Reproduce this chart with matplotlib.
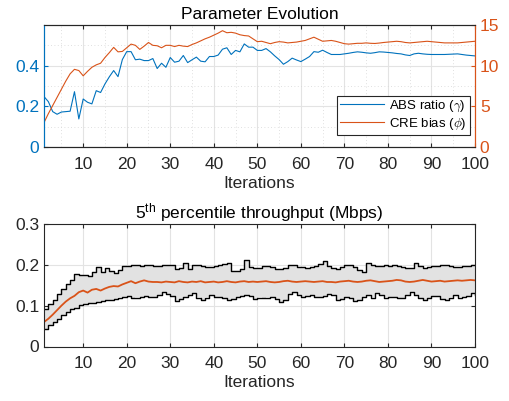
import numpy as np
import matplotlib
matplotlib.use("Agg")
import matplotlib.pyplot as plt
from matplotlib.ticker import MultipleLocator

plt.rcParams['font.family'] = ['Liberation Sans', 'DejaVu Sans']
plt.rcParams['mathtext.fontset'] = 'custom'
plt.rcParams['mathtext.rm'] = 'Liberation Sans'
plt.rcParams['mathtext.it'] = 'Liberation Sans:italic'

iterations = list(range(1, 101))

abs_ratio = [0.248, 0.223, 0.174, 0.161, 0.172, 0.174, 0.176, 0.272, 0.138, 0.236,
             0.22, 0.212, 0.277, 0.268, 0.31, 0.345, 0.376, 0.346, 0.43, 0.469,
             0.469, 0.429, 0.432, 0.425, 0.425, 0.435, 0.386, 0.412, 0.392, 0.44,
             0.417, 0.422, 0.45, 0.415, 0.429, 0.442, 0.422, 0.419, 0.445, 0.445,
             0.452, 0.481, 0.488, 0.455, 0.475, 0.468, 0.507, 0.491, 0.491, 0.475,
             0.475, 0.484, 0.468, 0.448, 0.43, 0.407, 0.42, 0.437, 0.428, 0.42,
             0.432, 0.445, 0.469, 0.466, 0.476, 0.465, 0.455, 0.455, 0.455, 0.458,
             0.461, 0.465, 0.468, 0.466, 0.463, 0.461, 0.464, 0.468, 0.467, 0.465,
             0.463, 0.46, 0.458, 0.453, 0.45, 0.458, 0.461, 0.458, 0.456, 0.455,
             0.455, 0.455, 0.455, 0.456, 0.457, 0.458, 0.455, 0.452, 0.45, 0.448]

cre_bias = [3.0, 4.1, 5.1, 6.1, 7.1, 8.1, 9.0, 9.55, 9.4, 8.75,
            9.3, 9.8, 10.1, 10.3, 11.0, 11.6, 12.25, 11.7, 11.75, 12.2,
            12.65, 12.5, 12.0, 12.4, 12.85, 12.5, 12.45, 12.2, 12.5, 12.5,
            12.35, 12.5, 12.4, 12.35, 12.6, 12.8, 13.05, 13.3, 13.5, 13.75,
            14.0, 14.3, 14.05, 14.1, 14.0, 13.8, 13.7, 13.65, 13.3, 12.95,
            13.0, 12.85, 12.7, 12.85, 12.95, 12.9, 12.8, 12.85, 12.9, 13.0,
            13.1, 13.3, 13.5, 13.25, 13.0, 13.05, 13.1, 13.0, 12.85, 12.7,
            12.65, 12.7, 12.75, 12.75, 12.8, 12.75, 12.73, 12.78, 12.85, 12.9,
            12.95, 13.0, 12.95, 12.85, 12.8, 12.85, 12.9, 12.95, 13.0, 12.95,
            12.9, 12.85, 12.8, 12.8, 12.8, 12.8, 12.85, 12.9, 12.95, 13.0]

tp_upper = [0.093, 0.105, 0.113, 0.128, 0.142, 0.152, 0.163, 0.178, 0.176, 0.175,
            0.173, 0.182, 0.194, 0.183, 0.193, 0.186, 0.181, 0.187, 0.196, 0.197,
            0.199, 0.2, 0.198, 0.199, 0.2, 0.196, 0.198, 0.2, 0.199, 0.2,
            0.19, 0.192, 0.204, 0.19, 0.2, 0.199, 0.198, 0.195, 0.194, 0.198,
            0.2, 0.201, 0.205, 0.186, 0.185, 0.19, 0.212, 0.195, 0.193, 0.192,
            0.197, 0.196, 0.194, 0.191, 0.189, 0.193, 0.2, 0.199, 0.195, 0.194,
            0.193, 0.195, 0.198, 0.203, 0.209, 0.196, 0.193, 0.19, 0.195, 0.2,
            0.199, 0.194, 0.188, 0.182, 0.205, 0.2, 0.196, 0.198, 0.2, 0.198,
            0.199, 0.196, 0.194, 0.192, 0.193, 0.205, 0.197, 0.192, 0.195, 0.196,
            0.197, 0.199, 0.2, 0.198, 0.195, 0.194, 0.196, 0.197, 0.199, 0.2]

tp_lower = [0.044, 0.052, 0.06, 0.068, 0.076, 0.085, 0.091, 0.095, 0.101, 0.104,
            0.106, 0.107, 0.109, 0.111, 0.113, 0.115, 0.117, 0.12, 0.122, 0.123,
            0.118, 0.12, 0.122, 0.123, 0.121, 0.121, 0.126, 0.133, 0.128, 0.124,
            0.111, 0.117, 0.121, 0.125, 0.13, 0.12, 0.113, 0.12, 0.125, 0.122,
            0.121, 0.118, 0.113, 0.117, 0.122, 0.124, 0.127, 0.124, 0.117, 0.12,
            0.118, 0.12, 0.121, 0.116, 0.109, 0.115, 0.128, 0.133, 0.125, 0.121,
            0.123, 0.125, 0.122, 0.121, 0.124, 0.129, 0.127, 0.113, 0.117, 0.121,
            0.118, 0.111, 0.113, 0.122, 0.125, 0.12, 0.13, 0.127, 0.12, 0.122,
            0.121, 0.119, 0.118, 0.125, 0.133, 0.126, 0.118, 0.113, 0.118, 0.124,
            0.124, 0.117, 0.113, 0.12, 0.125, 0.12, 0.121, 0.124, 0.13, 0.125]

tp_mean = [0.06, 0.068, 0.078, 0.089, 0.1, 0.11, 0.118, 0.124, 0.133, 0.137,
           0.132, 0.139, 0.141, 0.137, 0.142, 0.146, 0.148, 0.147, 0.152, 0.156,
           0.16, 0.155, 0.159, 0.162, 0.159, 0.158, 0.158, 0.157, 0.159, 0.158,
           0.157, 0.16, 0.158, 0.157, 0.159, 0.158, 0.16, 0.157, 0.158, 0.159,
           0.157, 0.158, 0.16, 0.158, 0.157, 0.159, 0.16, 0.158, 0.159, 0.158,
           0.159, 0.16, 0.158, 0.157, 0.158, 0.16, 0.161, 0.159, 0.158, 0.159,
           0.16, 0.159, 0.158, 0.159, 0.16, 0.158, 0.158, 0.157, 0.159, 0.16,
           0.161, 0.159, 0.158, 0.159, 0.161, 0.162, 0.16, 0.158, 0.159, 0.16,
           0.161, 0.163, 0.162, 0.159, 0.158, 0.159, 0.161, 0.163, 0.161, 0.159,
           0.16, 0.161, 0.159, 0.16, 0.161, 0.162, 0.161, 0.162, 0.163, 0.162]

BLUE = '#0072BD'
ORANGE = '#D95319'
DARK = '#262626'
GRID = '#e3e3e3'
FS = 12.5

fig = plt.figure(figsize=(5.09, 4.01), dpi=100)
ax1 = fig.add_axes([44/509, 1-147/401, 431/509, 122/401])
ax2 = fig.add_axes([44/509, 1-346.5/401, 431/509, 122.5/401])

# ---- top
ax1.plot(iterations, abs_ratio, color=BLUE, lw=0.8, label=r'ABS ratio ($\gamma$)')
ax1r = ax1.twinx()
ax1r.plot(iterations, cre_bias, color=ORANGE, lw=0.8, label=r'CRE bias ($\phi$)')
ax1.set_xlim(1, 100)
ax1.set_ylim(0, 0.6)
ax1r.set_ylim(0, 15)
ax1.set_yticks([0, 0.2, 0.4])
ax1.set_yticklabels(['0', '0.2', '0.4'])
ax1r.set_yticks([0, 5, 10, 15])
ax1.set_xticks(range(10, 101, 10))
ax1.xaxis.set_minor_locator(MultipleLocator(5))
ax1.yaxis.set_minor_locator(MultipleLocator(0.1))
ax1.grid(True, which='major', color=GRID, lw=0.8)
ax1.grid(True, which='minor', color='#d5d5d5', lw=0.6, ls=(0, (1, 3)))
ax1.tick_params(which='minor', length=0)
ax1.set_axisbelow(True)
ax1.set_title('Parameter Evolution', fontsize=FS, color='black', pad=4)
ax1.set_xlabel('Iterations', fontsize=FS, color=DARK, labelpad=3)
ax1.tick_params(axis='x', direction='in', colors=DARK, labelsize=FS, top=True, length=3, pad=7)
ax1.tick_params(axis='y', which='major', direction='in', colors=BLUE, labelsize=FS, length=3)
ax1r.tick_params(axis='y', direction='in', colors=ORANGE, labelsize=FS, length=3)
for a in (ax1, ax1r):
    a.spines['top'].set_color(DARK)
    a.spines['bottom'].set_color(DARK)
    a.spines['left'].set_color(BLUE)
    a.spines['right'].set_color(ORANGE)
h1, l1 = ax1.get_legend_handles_labels()
h2, l2 = ax1r.get_legend_handles_labels()
leg = ax1r.legend(h1 + h2, l1 + l2, loc='lower right', bbox_to_anchor=(0.988, 0.1),
                  fontsize=9.5, frameon=True, fancybox=False, edgecolor=DARK,
                  framealpha=1, borderpad=0.25, handlelength=3.3, handletextpad=0.4,
                  labelspacing=0.1, borderaxespad=0)
leg.get_frame().set_linewidth(0.8)
for t in leg.get_texts():
    t.set_math_fontfamily('cm')

# ---- bottom
ax2.fill_between(iterations, tp_lower, tp_upper, step='post', color='#e2e2e2', lw=0)
ax2.step(iterations, tp_upper, where='post', color='black', lw=1.0)
ax2.step(iterations, tp_lower, where='post', color='black', lw=1.0)
ax2.plot(iterations, tp_mean, color=ORANGE, lw=1.3)
ax2.set_xlim(1, 100)
ax2.set_ylim(0, 0.3)
ax2.set_yticks([0, 0.1, 0.2, 0.3])
ax2.set_yticklabels(['0', '0.1', '0.2', '0.3'])
ax2.set_xticks(range(10, 101, 10))
ax2.grid(True, color=GRID, lw=0.8)
ax2.set_axisbelow(True)
ax2.set_title(r'5$^{\mathrm{th}}$ percentile throughput (Mbps)', fontsize=FS, color='black', pad=4)
ax2.set_xlabel('Iterations', fontsize=FS, color=DARK, labelpad=3)
ax2.tick_params(direction='in', colors=DARK, labelsize=FS, top=True, right=True, length=3)
ax2.tick_params(axis='x', pad=7)
for s in ax2.spines.values():
    s.set_color(DARK)

fig.savefig('out.png', dpi=100)
